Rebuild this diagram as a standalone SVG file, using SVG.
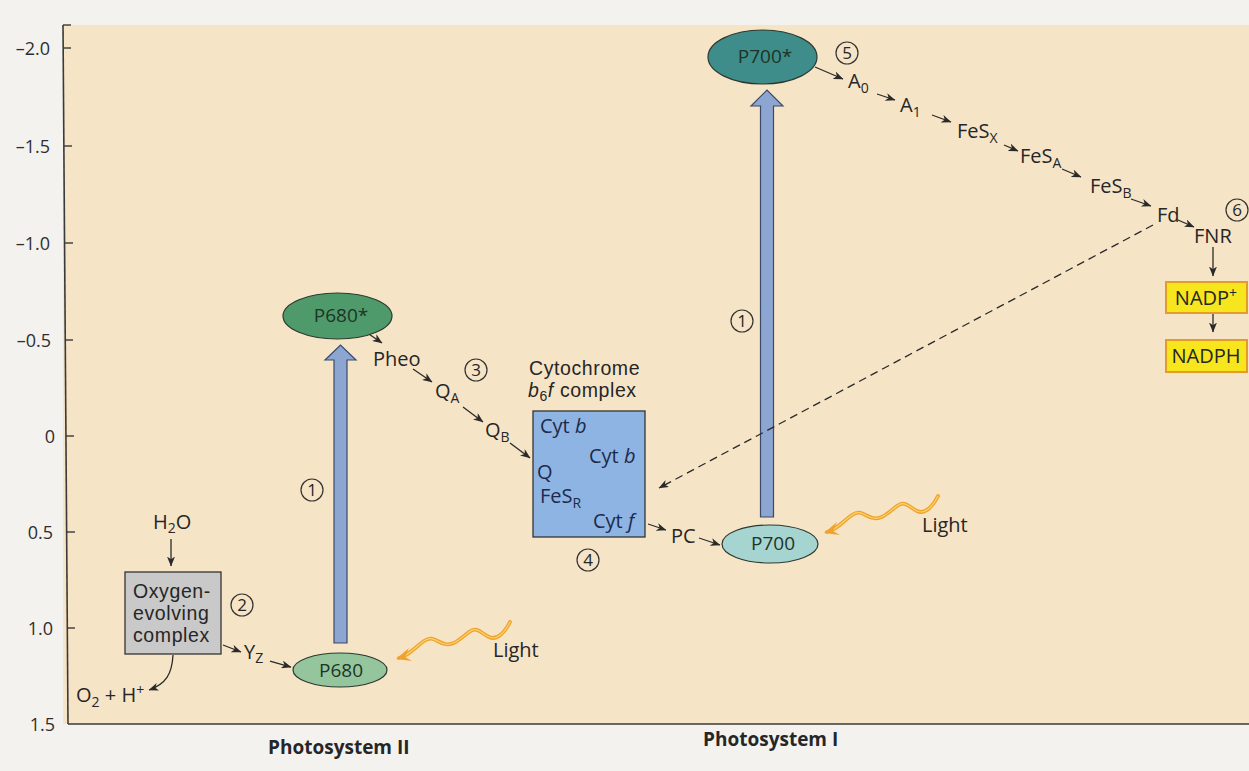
<svg xmlns="http://www.w3.org/2000/svg" width="1249" height="771" viewBox="0 0 1249 771">
  <defs>
    <style>
      text { font-family: "Open Sans", "Liberation Sans", sans-serif; fill: #262626; font-size: 20px; }
      .ax { font-size: 18px; text-anchor: end; fill: #2e2e2e; }
      .sub { font-size: 14px; }
      .ps { font-weight: bold; font-size: 19px; }
      .block { font-family: "Liberation Sans", "Open Sans", sans-serif; font-size: 19.5px; letter-spacing: 0.6px; }
      .ln { stroke: #2a2a2a; stroke-width: 1.3; fill: none; marker-end: url(#ah); }
      .dash { stroke: #2a2a2a; stroke-width: 1.3; fill: none; stroke-dasharray: 8 5; marker-end: url(#ah); }
      .tick { stroke: #3a3a3a; stroke-width: 1.4; }
      .num circle { fill: none; stroke: #333; stroke-width: 1.2; }
      .num text { font-size: 17px; text-anchor: middle; }
      .pump { fill: #8ca5d1; stroke: #3b4a6b; stroke-width: 1.2; }
      .ell { stroke: #2a3a30; stroke-width: 1.2; }
      .ell-t { text-anchor: middle; font-size: 19px; fill: #1d3426; }
      .cyt { font-size: 20px; fill: #1d2a4a; }
      .yel { fill: #f7e51d; stroke: #e39b2a; stroke-width: 2; }
      .wave-o { fill: none; stroke: #f0a22e; stroke-width: 3.8; stroke-linecap: round; }
      .wave-i { fill: none; stroke: #fad56a; stroke-width: 1.2; stroke-linecap: round; }
    </style>
    <marker id="ah" viewBox="0 0 10 8" refX="9.5" refY="4" markerWidth="10" markerHeight="8" markerUnits="userSpaceOnUse" orient="auto">
      <path d="M0,0 L10,4 L0,8 L2.8,4 Z" fill="#2a2a2a"/>
    </marker>
    <!-- photon wave, drawn from its tail to the tip that meets the reaction centre -->
    <path id="wave" d="M510,622 C505,632 497,641 489,637 S477,626 469,632 S454,646 445,644 S433,635 424,641 S410,655 399,658"/>
  </defs>

  <!-- page and plot area -->
  <rect x="0" y="0" width="1249" height="771" fill="#f3f2ef"/>
  <rect x="63" y="25" width="1186" height="699" fill="#f6e4c6"/>

  <!-- redox potential axis -->
  <g id="axis">
    <line x1="63" y1="25" x2="68" y2="724" stroke="#3a3a3a" stroke-width="1.6"/>
    <line x1="68" y1="724" x2="1249" y2="724" stroke="#3a3a3a" stroke-width="1.6"/>
    <line class="tick" x1="63" y1="25" x2="71" y2="25"/>
    <line class="tick" x1="63" y1="48" x2="71" y2="48"/>
    <line class="tick" x1="64" y1="146" x2="72" y2="146"/>
    <line class="tick" x1="65" y1="243" x2="73" y2="243"/>
    <line class="tick" x1="65" y1="340" x2="73" y2="340"/>
    <line class="tick" x1="66" y1="436" x2="74" y2="436"/>
    <line class="tick" x1="67" y1="532" x2="75" y2="532"/>
    <line class="tick" x1="67" y1="628" x2="75" y2="628"/>
    <text class="ax" x="50" y="55">–2.0</text>
    <text class="ax" x="50" y="153">–1.5</text>
    <text class="ax" x="50" y="250">–1.0</text>
    <text class="ax" x="51" y="347">–0.5</text>
    <text class="ax" x="55" y="443">0</text>
    <text class="ax" x="53" y="539">0.5</text>
    <text class="ax" x="53" y="635">1.0</text>
    <text class="ax" x="55" y="731">1.5</text>
  </g>

  <!-- connectors -->
  <g id="connectors">
    <!-- excitation arrows -->
    <polygon class="pump" points="334,643 347,643 347,360 356,360 340.5,345 325,360 334,360"/>
    <polygon class="pump" points="760.5,517 773.5,517 773.5,106 783,106 767,90 751,106 760.5,106"/>
    <!-- light -->
    <g id="light-psii">
      <use href="#wave" class="wave-o"/>
      <use href="#wave" class="wave-i"/>
      <path d="M396,659 L409,648 L405,657 L412,661 Z" fill="#f0a22e"/>
    </g>
    <g id="light-psi" transform="translate(428,-126)">
      <use href="#wave" class="wave-o"/>
      <use href="#wave" class="wave-i"/>
      <path d="M396,659 L409,648 L405,657 L412,661 Z" fill="#f0a22e"/>
    </g>
    <!-- water splitting -->
    <line class="ln" x1="171" y1="539" x2="171" y2="566"/>
    <path class="ln" d="M173,655 C172,674 166,684 149,690"/>
    <line class="ln" x1="223" y1="645" x2="241" y2="652"/>
    <line class="ln" x1="270" y1="661" x2="291" y2="667"/>
    <!-- photosystem II to cytochrome complex -->
    <line class="ln" x1="363" y1="330" x2="382" y2="343"/>
    <line class="ln" x1="413" y1="369" x2="432" y2="382"/>
    <line class="ln" x1="463" y1="407" x2="483" y2="422"/>
    <line class="ln" x1="510" y1="443" x2="530" y2="458"/>
    <line class="ln" x1="648" y1="524" x2="666" y2="530"/>
    <line class="ln" x1="699" y1="538" x2="720" y2="545"/>
    <!-- photosystem I chain -->
    <line class="ln" x1="815" y1="67" x2="843" y2="79"/>
    <line class="ln" x1="877" y1="94" x2="895" y2="100"/>
    <line class="ln" x1="932" y1="115" x2="951" y2="122"/>
    <line class="ln" x1="1004" y1="145" x2="1018" y2="151"/>
    <line class="ln" x1="1062" y1="169" x2="1081" y2="177"/>
    <line class="ln" x1="1131" y1="199" x2="1151" y2="206"/>
    <line class="ln" x1="1178" y1="220" x2="1194" y2="227"/>
    <line class="ln" x1="1213" y1="247" x2="1213" y2="276"/>
    <line class="ln" x1="1213" y1="313" x2="1213" y2="332"/>
    <!-- cyclic return -->
    <line class="dash" x1="1153" y1="225" x2="659" y2="488"/>
  </g>

  <!-- photosystem II -->
  <g id="p680-star">
    <ellipse class="ell" cx="337.5" cy="316" rx="54.5" ry="23" fill="#4f9a6b"/>
    <text class="ell-t" x="341" y="322">P680*</text>
  </g>
  <g id="p680">
    <ellipse class="ell" cx="340" cy="670" rx="47" ry="17" fill="#94c59d"/>
    <text class="ell-t" x="341" y="677">P680</text>
  </g>
  <g id="oec">
    <rect x="125" y="572" width="96" height="82" fill="#c9c9c9" stroke="#333" stroke-width="1.3"/>
    <text class="block" x="133" y="598">Oxygen-<tspan x="133" y="620">evolving</tspan><tspan x="133" y="642">complex</tspan></text>
  </g>
  <g id="h2o"><text x="153" y="529">H<tspan class="sub" dy="4">2</tspan><tspan dy="-4">O</tspan></text></g>
  <g id="o2"><text x="76" y="702">O<tspan class="sub" dy="5">2</tspan><tspan dy="-5"> + H</tspan><tspan class="sub" dy="-7">+</tspan></text></g>
  <g id="yz"><text x="244" y="659">Y<tspan class="sub" dy="4">Z</tspan></text></g>
  <g id="pheo"><text x="373" y="366">Pheo</text></g>
  <g id="qa"><text x="435" y="398">Q<tspan class="sub" dy="5">A</tspan></text></g>
  <g id="qb"><text x="485" y="437">Q<tspan class="sub" dy="5">B</tspan></text></g>
  <g id="light-label-psii"><text x="493" y="657">Light</text></g>

  <!-- cytochrome b6f -->
  <g id="cyt-b6f">
    <text class="block" x="529" y="375">Cytochrome<tspan x="528" y="397" font-style="italic">b</tspan><tspan class="sub" dy="4">6</tspan><tspan dy="-4" font-style="italic">f</tspan> complex</text>
    <rect x="533" y="411" width="112" height="126" fill="#8eb4e3" stroke="#333" stroke-width="1.3"/>
    <text class="cyt" x="540" y="433">Cyt <tspan font-style="italic">b</tspan></text>
    <text class="cyt" x="589" y="463">Cyt <tspan font-style="italic">b</tspan></text>
    <text class="cyt" x="537" y="479">Q</text>
    <text class="cyt" x="540" y="503">FeS<tspan class="sub" dy="5">R</tspan></text>
    <text class="cyt" x="593" y="528">Cyt <tspan font-style="italic">f</tspan></text>
  </g>
  <g id="pc"><text x="671" y="543">PC</text></g>

  <!-- photosystem I -->
  <g id="p700">
    <ellipse class="ell" cx="770" cy="544" rx="48" ry="19" fill="#a6d4d1"/>
    <text class="ell-t" x="773" y="550">P700</text>
  </g>
  <g id="p700-star">
    <ellipse class="ell" cx="762.5" cy="57" rx="54.5" ry="27" fill="#3e8d8b"/>
    <text class="ell-t" x="765" y="63">P700*</text>
  </g>
  <g id="light-label-psi"><text x="922" y="532">Light</text></g>
  <g id="a0"><text x="848" y="88">A<tspan class="sub" dy="5">0</tspan></text></g>
  <g id="a1"><text x="900" y="112">A<tspan class="sub" dy="5">1</tspan></text></g>
  <g id="fesx"><text x="957" y="138">FeS<tspan class="sub" dy="5">X</tspan></text></g>
  <g id="fesa"><text x="1020" y="163">FeS<tspan class="sub" dy="5">A</tspan></text></g>
  <g id="fesb"><text x="1090" y="193">FeS<tspan class="sub" dy="5">B</tspan></text></g>
  <g id="fd"><text x="1157" y="222">Fd</text></g>
  <g id="fnr"><text x="1194" y="243">FNR</text></g>
  <g id="nadp">
    <rect class="yel" x="1166" y="282" width="81" height="31"/>
    <text x="1206" y="305" text-anchor="middle">NADP<tspan class="sub" dy="-7">+</tspan></text>
  </g>
  <g id="nadph">
    <rect class="yel" x="1166" y="340" width="81" height="32"/>
    <text x="1206" y="363" text-anchor="middle">NADPH</text>
  </g>

  <!-- numbered steps -->
  <g class="num" id="step-1a"><circle cx="312" cy="490" r="11"/><text x="312" y="496">1</text></g>
  <g class="num" id="step-1b"><circle cx="742" cy="321" r="11"/><text x="742" y="327">1</text></g>
  <g class="num" id="step-2"><circle cx="242" cy="605" r="11"/><text x="242" y="611">2</text></g>
  <g class="num" id="step-3"><circle cx="476" cy="370" r="11"/><text x="476" y="376">3</text></g>
  <g class="num" id="step-4"><circle cx="588" cy="560" r="11"/><text x="588" y="566">4</text></g>
  <g class="num" id="step-5"><circle cx="847" cy="53" r="11"/><text x="847" y="59">5</text></g>
  <g class="num" id="step-6"><circle cx="1237" cy="210" r="11"/><text x="1237" y="216">6</text></g>

  <!-- photosystem captions -->
  <g id="captions">
    <text class="ps" x="268" y="754">Photosystem II</text>
    <text class="ps" x="703" y="746">Photosystem I</text>
  </g>
</svg>
